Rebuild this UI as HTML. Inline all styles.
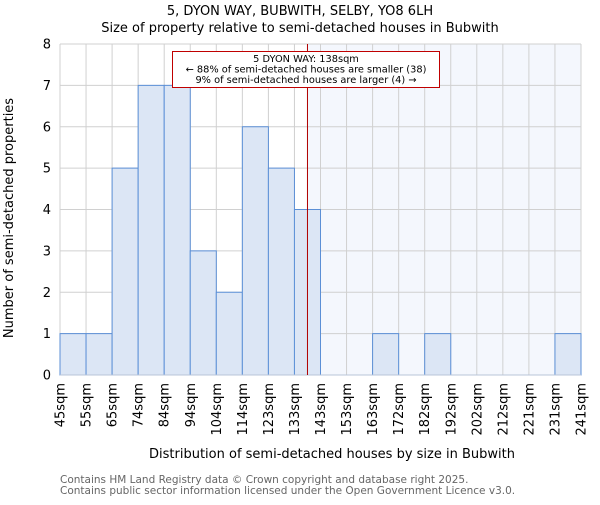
<!DOCTYPE html>
<html><head><meta charset="utf-8"><style>
body{margin:0;background:#fff}
svg text{font-family:"DejaVu Sans","Liberation Sans",sans-serif}
</style></head><body>
<svg id="c" width="600" height="500" xmlns="http://www.w3.org/2000/svg">
<text x="300" y="15" text-anchor="middle" font-size="13">5, DYON WAY, BUBWITH, SELBY, YO8 6LH</text>
<text x="300" y="32" text-anchor="middle" font-size="13">Size of property relative to semi-detached houses in Bubwith</text>
<g id="plot"></g>
<text x="332" y="458" text-anchor="middle" font-size="13">Distribution of semi-detached houses by size in Bubwith</text>
<text transform="translate(13,218) rotate(-90)" text-anchor="middle" font-size="13">Number of semi-detached properties</text>
<text x="60" y="483" font-size="10.5" fill="#666">Contains HM Land Registry data © Crown copyright and database right 2025.</text>
<text x="60" y="494" font-size="10.5" fill="#666">Contains public sector information licensed under the Open Government Licence v3.0.</text>
</svg>
<script>
const binLabels=["45sqm","55sqm","65sqm","74sqm","84sqm","94sqm","104sqm","114sqm","123sqm","133sqm","143sqm","153sqm","163sqm","172sqm","182sqm","192sqm","202sqm","212sqm","221sqm","231sqm","241sqm"];
const counts=[1,1,5,7,7,3,2,6,5,4,0,0,1,0,1,0,0,0,0,1];
const yTicks=[0,1,2,3,4,5,6,7,8];
const markerBin=9.5;
const annotation=["5 DYON WAY: 138sqm","← 88% of semi-detached houses are smaller (38)","9% of semi-detached houses are larger (4) →"];
const NS="http://www.w3.org/2000/svg";
const L=60,R=581,T=44,B=375,ymax=8;
const bw=(R-L)/counts.length;
const xs=i=>L+i*bw, ys=v=>B-(v/ymax)*(B-T);
const g=document.getElementById('plot');
function mk(t,a){const e=document.createElementNS(NS,t);for(const k in a)e.setAttribute(k,a[k]);g.appendChild(e);return e;}
let e=mk('rect',{x:xs(markerBin),y:T,width:R-xs(markerBin),height:B-T,fill:'#f4f7fd'});


yTicks.forEach(v=>{let l=mk('line',{x1:L,x2:R,y1:ys(v),y2:ys(v),stroke:'#d0d0d0'});


let t=mk('text',{x:L-9,y:ys(v)+4.5,'text-anchor':'end','font-size':13});t.textContent=v;

});
binLabels.forEach((s,i)=>{let l=mk('line',{x1:xs(i),x2:xs(i),y1:T,y2:B,stroke:'#d0d0d0'});


let t=mk('text',{transform:`translate(${xs(i)+4.5},${B+8}) rotate(-90)`,'text-anchor':'end','font-size':13});t.textContent=s;

});
counts.forEach((c,i)=>{if(!c)return;let r=mk('rect',{x:xs(i),y:ys(c),width:bw,height:B-ys(c),fill:'#dce6f5',stroke:'#5b8fd6','stroke-width':1});

});
e=mk('line',{x1:L,x2:R,y1:B,y2:B,stroke:'#b8c4d8'});


e=mk('line',{x1:xs(markerBin),x2:xs(markerBin),y1:T,y2:B,stroke:'#b00000','stroke-width':1});


e=mk('rect',{x:172.5,y:51.5,width:267,height:36,fill:'#fff',stroke:'#c00000'});


annotation.forEach((s,i)=>{let t=mk('text',{x:306,y:62+i*10.5,'text-anchor':'middle','font-size':9.8});t.textContent=s;

});
</script>
</body></html>
